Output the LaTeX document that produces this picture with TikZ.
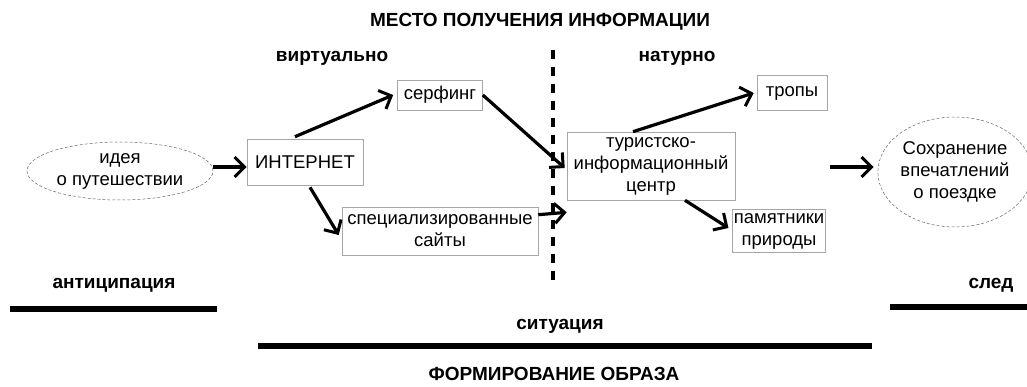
\documentclass[tikz,border=0pt]{standalone}
\usepackage{fontspec}
\setmainfont{Liberation Sans}
\usetikzlibrary{positioning, arrows.meta, shapes.geometric}

\begin{document}
\begin{tikzpicture}[x=1pt, y=-1pt,
    box/.style={draw=black!35, line width=0.6pt, inner sep=2pt, align=center, font=\fontsize{18.5}{22}\selectfont},
    oval/.style={ellipse, draw=black!60, densely dashed, line width=0.5pt, align=center, inner sep=0pt, font=\fontsize{18.5}{22}\selectfont},
    lbl/.style={font=\bfseries\fontsize{19}{22}\selectfont},
    arr/.style={line width=3.2pt, -{Straight Barb[length=10pt, width=20pt, line width=3pt]}},
    bar/.style={line width=6pt}]
            \useasboundingbox (0,0) rectangle (1027,387);
            % headings
            \node[lbl] (top) at (540,22) {МЕСТО ПОЛУЧЕНИЯ ИНФОРМАЦИИ};
            \node[lbl] (virt) at (332,58) {виртуально};
            \node[lbl] (nat) at (677,58) {натурно};
            \draw[line width=3.2pt, dash pattern=on 9pt off 8pt] (553,50) -- (553,286);
            % nodes
            \node[oval, minimum width=186pt, minimum height=58pt] (idea) at (120,171) {идея\\о путешествии};
            \node[box, minimum width=116pt, minimum height=46pt] (inet) at (305,162) {ИНТЕРНЕТ};
            \node[box, minimum width=85pt, minimum height=30pt] (surf) at (440,95) {серфинг};
            \node[box, minimum width=196pt, minimum height=48pt, inner sep=0pt] (sites) at (440,231) {специализированные\\сайты};
            \node[box, minimum width=168pt, minimum height=68pt, inner sep=0pt] (tic) at (651,166) {туристско-\\информационный\\центр};
            \node[box, minimum width=70pt, minimum height=35pt] (trails) at (792,93) {тропы};
            \node[box, minimum width=75pt, minimum height=43pt, inner sep=1pt] (monum) at (779,231) {памятники\\природы};
            \node[oval, minimum width=142pt, minimum height=110pt] (keep) at (955,172) {Сохранение\\впечатлений\\о поездке};
            \coordinate (free) at (830,167);
            % arrows
            \draw[arr] (idea.east |- 0,167) -- (inet.west |- 0,167);
            \draw[arr] (inet.north) ++(-10,-2) -- ([xshift=-4pt]surf.west);
            \draw[arr] (inet.south) ++(5,2) -- ([xshift=-3pt, yshift=-4pt]sites.west);
            \draw[arr] (surf.east) -- ([xshift=-2pt, yshift=-2pt]tic.west);
            \draw[arr] ([yshift=-8pt]sites.north east) -- ([yshift=-12pt]tic.south west);
            \draw[arr] ([xshift=-18pt]tic.north) -- ([xshift=-3pt]trails.west);
            \draw[arr] ([xshift=34pt]tic.south) -- ([xshift=-4pt, yshift=3pt]monum.west);
            \draw[arr] (free) -- ([xshift=-4pt]keep.west |- free);
            % phases
            \node[lbl] (antic) at (114,285) {антиципация};
            \node[lbl] (trace) at (991,285) {след};
            \node[lbl] (situ) at (560,326) {ситуация};
            \node[lbl] (form) at (554,374) {ФОРМИРОВАНИЕ ОБРАЗА};
            \draw[bar] (10,309) -- (217,309);
            \draw[bar] (890,307) -- (1027,307);
            \draw[bar] (258,346) -- (872,346);
        \end{tikzpicture}
\end{document}
